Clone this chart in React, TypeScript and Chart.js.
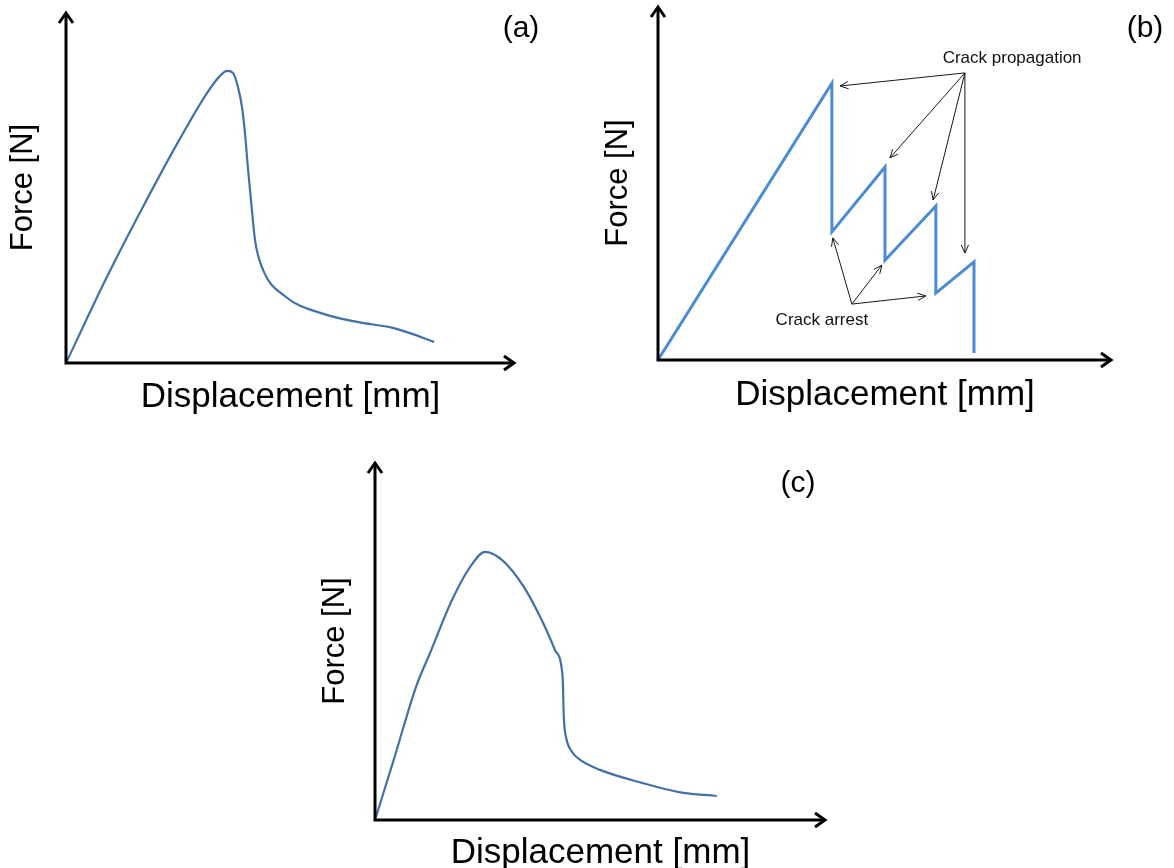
import React, { useEffect, useRef } from "react";
import { Chart, registerables } from "chart.js";

Chart.register(...registerables);

const FONT = '"Liberation Sans", Arial, Helvetica, sans-serif';

// Panel (a): ductile-like response
const aDisp = [0, 9.1, 17.1, 25.2, 31.4, 34.3, 35.9, 37.2, 38.3, 39.2, 39.9, 40.5, 41.2, 42.1, 43.7, 49.0, 56.8, 64.8, 72.8, 76.6, 82.0];
const aForce = [0, 24.5, 44.4, 63.5, 76.9, 81.8, 83.2, 82.6, 78.6, 72.9, 65.0, 55.8, 46.4, 35.0, 27.1, 18.8, 14.2, 11.7, 10.0, 8.5, 6.0];

// Panel (b): stick-slip crack growth
const bDisp = [0, 38.3, 38.3, 50.0, 50.0, 61.2, 61.2, 69.6, 69.6];
const bForce = [0, 78.2, 36.2, 54.5, 28.2, 43.5, 18.9, 27.7, 2.0];

// Panel (b) annotations (data units)
const propagationLabel = "Crack propagation";
const propagationAnchor: [number, number] = [78.0, 85.3];
const propagationFrom: [number, number] = [67.6, 81.1];
const propagationTips: [number, number][] = [
  [40.1, 77.4],
  [51.1, 57.1],
  [60.6, 45.2],
  [67.6, 30.2],
];
const arrestLabel = "Crack arrest";
const arrestAnchor: [number, number] = [36.1, 11.3];
const arrestFrom: [number, number] = [42.7, 15.8];
const arrestTips: [number, number][] = [
  [38.5, 34.5],
  [49.3, 26.8],
  [59.0, 18.1],
];

// Panel (c)
const cDisp = [0, 4.2, 9.1, 12.2, 17.1, 21.1, 24.4, 28.2, 33.0, 37.7, 39.9, 41.5, 41.7, 41.75, 41.9, 42.4, 43.7, 45.5, 49.9, 59.4, 67.4, 75.8];
const cForce = [0, 17.0, 37.2, 46.6, 61.5, 70.7, 74.9, 72.6, 65.1, 53.9, 47.5, 41.3, 36.9, 33.5, 27.9, 22.9, 19.0, 16.8, 14.0, 10.3, 7.8, 6.7];

const xTitle = "Displacement [mm]";
const yTitle = "Force [N]";

type Ann = {
  label: string;
  anchor: [number, number];
  from: [number, number];
  tips: [number, number][];
};

const decorPlugin = {
  id: "decor",
  afterDatasetsDraw(chart: any, _args: any, opts: any) {
    const { ctx, chartArea: a, scales } = chart;
    const X = (v: number) => scales.x.getPixelForValue(v);
    const Y = (v: number) => scales.y.getPixelForValue(v);
    ctx.save();

    // annotations
    const anns: Ann[] = opts.annotations || [];
    for (const an of anns) {
      ctx.strokeStyle = "#1a1a1a";
      ctx.lineWidth = 1;
      const fx = X(an.from[0]);
      const fy = Y(an.from[1]);
      for (const t of an.tips) {
        const tx = X(t[0]);
        const ty = Y(t[1]);
        ctx.beginPath();
        ctx.moveTo(fx, fy);
        ctx.lineTo(tx, ty);
        ctx.stroke();
        const ang = Math.atan2(ty - fy, tx - fx);
        const L = 9;
        const w = 0.42;
        ctx.beginPath();
        ctx.moveTo(tx - L * Math.cos(ang - w), ty - L * Math.sin(ang - w));
        ctx.lineTo(tx, ty);
        ctx.lineTo(tx - L * Math.cos(ang + w), ty - L * Math.sin(ang + w));
        ctx.stroke();
      }
      ctx.fillStyle = "#111";
      ctx.font = `17px ${FONT}`;
      ctx.textAlign = "center";
      ctx.textBaseline = "middle";
      ctx.fillText(an.label, X(an.anchor[0]), Y(an.anchor[1]));
    }

    // axes with arrow heads
    ctx.strokeStyle = "#000";
    ctx.lineWidth = 3;
    ctx.lineJoin = "miter";
    ctx.lineCap = "butt";
    ctx.beginPath();
    ctx.moveTo(a.left, a.top + 2);
    ctx.lineTo(a.left, a.bottom);
    ctx.lineTo(a.right - 2, a.bottom);
    ctx.stroke();
    ctx.beginPath();
    ctx.moveTo(a.left - 7, a.top + 11);
    ctx.lineTo(a.left, a.top + 1);
    ctx.lineTo(a.left + 7, a.top + 11);
    ctx.stroke();
    ctx.beginPath();
    ctx.moveTo(a.right - 11, a.bottom - 7);
    ctx.lineTo(a.right - 1, a.bottom);
    ctx.lineTo(a.right - 11, a.bottom + 7);
    ctx.stroke();

    // titles
    ctx.fillStyle = "#000";
    ctx.textAlign = "center";
    ctx.textBaseline = "middle";
    ctx.font = `35px ${FONT}`;
    ctx.fillText(xTitle, (a.left + a.right) / 2, a.bottom + opts.xTitleOffset);
    ctx.save();
    ctx.translate(a.left - opts.yTitleOffset, (a.top + a.bottom) / 2);
    ctx.rotate(-Math.PI / 2);
    ctx.font = `31px ${FONT}`;
    ctx.fillText(yTitle, 0, 0);
    ctx.restore();
    ctx.font = `30px ${FONT}`;
    ctx.fillText(opts.tag, a.right + opts.tagDx, opts.tagY);
    ctx.restore();
  },
};

type PanelProps = {
  left: number;
  top: number;
  width: number;
  height: number;
  padding: { left: number; right: number; top: number; bottom: number };
  xs: number[];
  ys: number[];
  color: string;
  lineWidth: number;
  smooth: boolean;
  tag: string;
  tagDx: number;
  tagY: number;
  xTitleOffset: number;
  yTitleOffset: number;
  annotations?: Ann[];
};

function Panel(p: PanelProps) {
  const ref = useRef<HTMLCanvasElement | null>(null);
  useEffect(() => {
    if (!ref.current) return;
    const chart = new Chart(ref.current, {
      type: "line",
      data: {
        datasets: [
          {
            data: p.xs.map((x, i) => ({ x, y: p.ys[i] })),
            borderColor: p.color,
            borderWidth: p.lineWidth,
            tension: p.smooth ? 0.4 : 0,
            cubicInterpolationMode: p.smooth ? "monotone" : "default",
            pointRadius: 0,
            fill: false,
            clip: false as any,
            borderJoinStyle: "miter",
            borderCapStyle: "butt",
          },
        ],
      },
      options: {
        responsive: false,
        animation: false,
        devicePixelRatio: 1,
        layout: { padding: p.padding },
        plugins: {
          legend: { display: false },
          tooltip: { enabled: false },
          decor: {
            tag: p.tag,
            tagDx: p.tagDx,
            tagY: p.tagY,
            xTitleOffset: p.xTitleOffset,
            yTitleOffset: p.yTitleOffset,
            annotations: p.annotations || [],
          },
        } as any,
        scales: {
          x: { type: "linear", min: 0, max: 100, display: false },
          y: { type: "linear", min: 0, max: 100, display: false },
        },
      },
      plugins: [decorPlugin as any],
    });
    return () => chart.destroy();
  }, []);
  return (
    <canvas
      ref={ref}
      width={p.width}
      height={p.height}
      style={{ position: "absolute", left: p.left, top: p.top, width: p.width, height: p.height }}
    />
  );
}

export default function App() {
  return (
    <div
      style={{
        position: "fixed",
        left: 0,
        top: 0,
        width: 1174,
        height: 868,
        background: "#ffffff",
        overflow: "hidden",
      }}
    >
      <Panel
        left={0}
        top={0}
        width={580}
        height={430}
        padding={{ left: 66, right: 65, top: 12, bottom: 67 }}
        xs={aDisp}
        ys={aForce}
        color="#4470a8"
        lineWidth={2.2}
        smooth={true}
        tag="(a)"
        tagDx={6}
        tagY={29}
        xTitleOffset={34}
        yTitleOffset={43}
      />
      <Panel
        left={590}
        top={0}
        width={584}
        height={430}
        padding={{ left: 68, right: 62, top: 6, bottom: 70 }}
        xs={bDisp}
        ys={bForce}
        color="#4b8bd3"
        lineWidth={3}
        smooth={false}
        tag="(b)"
        tagDx={33}
        tagY={29}
        xTitleOffset={35}
        yTitleOffset={40}
        annotations={[
          { label: propagationLabel, anchor: propagationAnchor, from: propagationFrom, tips: propagationTips },
          { label: arrestLabel, anchor: arrestAnchor, from: arrestFrom, tips: arrestTips },
        ]}
      />
      <Panel
        left={290}
        top={440}
        width={590}
        height={428}
        padding={{ left: 85, right: 54, top: 22, bottom: 48 }}
        xs={cDisp}
        ys={cForce}
        color="#4470a8"
        lineWidth={2.2}
        smooth={true}
        tag="(c)"
        tagDx={-28}
        tagY={44}
        xTitleOffset={33}
        yTitleOffset={40}
      />
    </div>
  );
}
